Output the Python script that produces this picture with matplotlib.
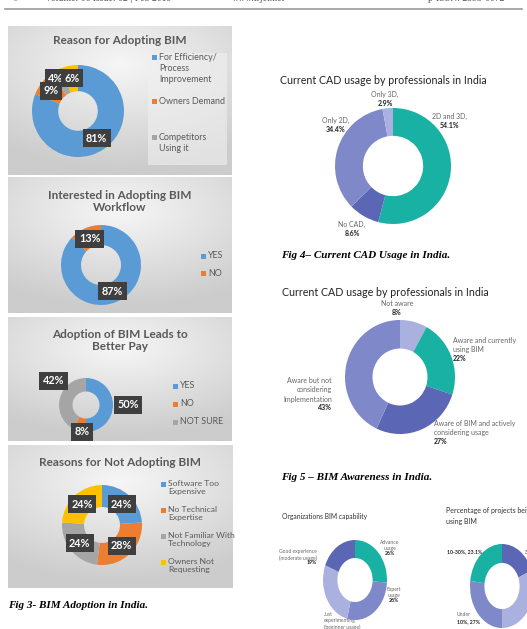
"""Scanned journal page: BIM adoption donut charts (Fig 3, 4, 5 and the cut-off Fig 6)."""
import numpy as np
import matplotlib

matplotlib.use("Agg")
import matplotlib.pyplot as plt
from matplotlib.patches import Rectangle

W, H = 527, 629

# ---- data -------------------------------------------------------------
adopt_labels = ["For Efficiency/\nProcess\nImprovement", "Owners Demand", "Competitors\nUsing it", "Owners Requesting"]
adopt_values = [81, 9, 4, 6]

interest_labels = ["YES", "NO"]
interest_values = [87, 13]

pay_labels = ["YES", "NO", "NOT SURE"]
pay_values = [50, 8, 42]

not_adopt_labels = ["Software Too\nExpensive", "No Technical\nExpertise", "Not Familiar With\nTechnology", "Owners Not\nRequesting"]
not_adopt_values = [24, 28, 24, 24]

cad_labels = ["2D and 3D,", "No CAD,", "Only 2D,", "Only 3D,"]
cad_values = [54.1, 8.6, 34.4, 2.9]

aware_labels = ["Not aware", "Aware and currently\nusing BIM", "Aware of BIM and actively\nconsidering usage",
                "Aware but not\nconsidering\nImplementation"]
aware_values = [8, 22, 27, 43]

capability_labels = ["Advance\nusage", "Expert\nusage", "Just\nexperimenting\n(beginner usage)", "Good experience\n(moderate usage)"]
capability_values = [26, 28, 27, 19]

projects_labels = ["30-50%", "Above 50%", "Under\n10%", "10-30%"]
projects_values = [19, 31, 27, 23.1]

# ---- styles -----------------------------------------------------------
XL = ["#5B9BD5", "#ED7D31", "#A5A5A5", "#FFC000"]
TEAL, DARK, MID, LIGHT = "#19B1A3", "#5B67B5", "#7F88C8", "#AAB1DE"
GREY_TXT = "#595959"
SANS = "Lato"

fig = plt.figure(figsize=(W / 100, H / 100), dpi=100)
base = fig.add_axes([0, 0, 1, 1])
base.set_xlim(0, W)
base.set_ylim(H, 0)
base.axis("off")


def donut(cx, cy, rx, ry, values, colors, inner):
    ax = fig.add_axes([(cx - rx) / W, 1 - (cy + ry) / H, 2 * rx / W, 2 * ry / H])
    wedges, _ = ax.pie(values, colors=colors, startangle=90, counterclock=False,
                       wedgeprops=dict(width=1 - inner, linewidth=0))
    ax.set_aspect("auto")
    ax.set_xlim(-1, 1)
    ax.set_ylim(-1, 1)
    ax.axis("off")
    return ax, wedges


def xl_labels(ax, wedges, values, factors, shifts=None, zorders=None):
    shifts = shifts or [0] * len(values)
    zorders = zorders or [5] * len(values)
    for w, v, f, s, z in zip(wedges, values, factors, shifts, zorders):
        a = np.deg2rad((w.theta1 + w.theta2) / 2 + s)
        ax.text(f * np.cos(a), f * np.sin(a), f"{v}%", ha="center", va="center",
                color="white", fontsize=7.8, fontweight="bold", family=SANS,
                bbox=dict(boxstyle="square,pad=0.32", fc="#3F3F3F", ec="none"), zorder=z)


def grey_box(x0, y0, x1, y1):
    nx, ny = 200, 120
    xx, yy = np.meshgrid(np.linspace(0, 1, nx), np.linspace(0, 1, ny))
    d = np.clip(np.hypot((xx - 0.5) * 1.0, (yy - 0.25) * 1.2) / 0.85, 0, 1)
    c0, c1 = np.array([0.965, 0.965, 0.965]), np.array([0.80, 0.80, 0.80])
    img = c0 + (c1 - c0) * d[..., None]
    base.imshow(img, extent=(x0, x1, y1, y0), aspect="auto", zorder=0, interpolation="bilinear")


def legend(x, ys, labels, colors, size=6.4):
    for y, lab, c in zip(ys, labels, colors):
        base.add_patch(Rectangle((x, y - 2.5), 5, 5, color=c, lw=0))
        multi = "\n" in lab
        base.text(x + 7, y - 4.5 if multi else y, lab, ha="left",
                  va="top" if multi else "center", fontsize=size,
                  color=GREY_TXT, family=SANS, linespacing=1.3)


def outside_labels(items, size, pct_size, step, spacing):
    for (x, y, ha), lab, v in items:
        n = lab.count("\n") + 1
        base.text(x, y, lab, ha=ha, va="top", fontsize=size, color="#666666", family=SANS,
                  linespacing=spacing)
        base.text(x, y + n * step + 0.5, f"{v}%", ha=ha, va="top", fontsize=pct_size,
                  color="#222222", family=SANS, fontweight="bold")


# ---- page header (mostly cut by the scan) ------------------------------
base.plot([5, 522], [9, 9], color="#9a9a9a", lw=1.2)
for x, t in [(12, "\u00a9"), (45, "Volume: 06 Issue: 02 | Feb 2019"),
             (232, "www.irjet.net"), (428, "p-ISSN: 2395-0072")]:
    base.text(x, -1.5, t, ha="left", va="center", fontsize=7, color="#555555", family="Liberation Serif")

# ---- Fig 3, left column -----------------------------------------------
grey_box(8, 26, 232, 175)
grey_box(8, 177, 232, 313)
grey_box(8, 317, 232, 441)
grey_box(8, 445, 233, 588)

base.text(120, 41, "Reason for Adopting BIM", ha="center", va="center", fontsize=8.5,
          fontweight="bold", color=GREY_TXT, family=SANS)
base.add_patch(Rectangle((148, 53), 79, 112, fc="#f0f0f0", ec="none", alpha=0.6, zorder=1))
ax1, w1 = donut(78, 111, 46, 46, adopt_values, XL, 0.43)
xl_labels(ax1, w1, adopt_values, [0.72, 0.74, 0.86, 0.72], [0, 1, 5, 0], [5, 6, 5, 7])
legend(152, [57, 101, 137], adopt_labels[:3], XL[:3])

base.text(120, 190, "Interested in Adopting BIM\nWorkflow", ha="center", va="top", fontsize=8.5,
          fontweight="bold", color=GREY_TXT, family=SANS, linespacing=1.1)
ax2, w2 = donut(101, 265, 40, 40, interest_values, XL[:2], 0.5)
xl_labels(ax2, w2, interest_values, [0.72] * 2)
legend(201, [256, 273], interest_labels, XL[:2])

base.text(120, 329, "Adoption of BIM Leads to\nBetter Pay", ha="center", va="top", fontsize=8.5,
          fontweight="bold", color=GREY_TXT, family=SANS, linespacing=1.1)
ax3, w3 = donut(86, 405, 27, 27, pay_values, XL[:3], 0.5)
xl_labels(ax3, w3, pay_values, [1.55, 1.0, 1.5], [0, 6, -22])
legend(173, [386, 404, 422], pay_labels, XL[:3])

base.text(120, 462, "Reasons for Not Adopting BIM", ha="center", va="center", fontsize=8.5,
          fontweight="bold", color=GREY_TXT, family=SANS)
ax4, w4 = donut(102, 525, 40, 40, not_adopt_values, XL, 0.45)
xl_labels(ax4, w4, not_adopt_values, [0.72] * 4)
legend(161, [484, 510, 536, 562], not_adopt_labels, XL, size=6.1)

base.text(8, 606, "Fig 3- BIM Adoption in India.", ha="left", va="center", fontsize=8,
          fontweight="bold", style="italic", family="Liberation Serif")

# ---- Fig 4 ------------------------------------------------------------
base.text(280, 80, "Current CAD usage by professionals in India", ha="left", va="center",
          fontsize=7.7, color="#222222", family=SANS)
donut(393, 166, 58, 58, cad_values, [TEAL, DARK, MID, LIGHT], 0.52)
cad_pos = [(450, 113, "center"), (352, 221, "center"), (336, 117, "center"), (385, 91, "center")]
outside_labels(zip(cad_pos, cad_labels, cad_values), 5.0, 5.0, 8.5, 1.4)

base.text(281, 256, "Fig 4\u2013 Current CAD Usage in India.", ha="left", va="center", fontsize=8,
          fontweight="bold", style="italic", family="Liberation Serif")

# ---- Fig 5 ------------------------------------------------------------
base.text(282, 292, "Current CAD usage by professionals in India", ha="left", va="center",
          fontsize=7.7, color="#222222", family=SANS)
donut(400, 377, 55, 57, aware_values, [LIGHT, TEAL, DARK, MID], 0.5)
aware_pos = [(397, 300, "center"), (453, 337, "left"), (434, 420, "left"), (332, 377, "right")]
outside_labels(zip(aware_pos, aware_labels, aware_values), 5.0, 5.0, 8.7, 1.4)

base.text(281, 478, "Fig 5 \u2013 BIM Awareness in India.", ha="left", va="center", fontsize=8,
          fontweight="bold", style="italic", family="Liberation Serif")

# ---- Fig 6 (cut by page) ----------------------------------------------
base.text(282, 516, "Organizations BIM capability", ha="left", va="center", fontsize=4.9,
          color="#333333", family=SANS)
donut(355, 580, 32, 40, capability_values, [TEAL, MID, LIGHT, DARK], 0.55)
cap_pos = [(390, 540, "center"), (394, 587, "center"), (324, 612, "left"), (317, 549, "right")]
outside_labels(zip(cap_pos, capability_labels, capability_values), 3.6, 3.7, 5.4, 1.35)

base.text(446, 516, "Percentage of projects being done\nusing BIM", ha="left", va="center",
          fontsize=5.0, color="#333333", family=SANS, linespacing=1.7)
donut(502, 586, 32, 42, projects_values, [DARK, LIGHT, MID, TEAL], 0.55)
base.text(447, 552, f"{projects_labels[3]}, {projects_values[3]}%", ha="left", va="center",
          fontsize=3.7, color="#222222", family=SANS, fontweight="bold")
base.text(457, 614, "Under", ha="left", va="center", fontsize=3.6, color="#666666", family=SANS)
base.text(457, 622, f"10%, {projects_values[2]}%", ha="left", va="center", fontsize=3.7,
          color="#222222", family=SANS, fontweight="bold")
base.text(525, 552, "30", ha="left", va="center", fontsize=3.7, color="#222222", family=SANS)

fig.savefig("out.png", dpi=100)
